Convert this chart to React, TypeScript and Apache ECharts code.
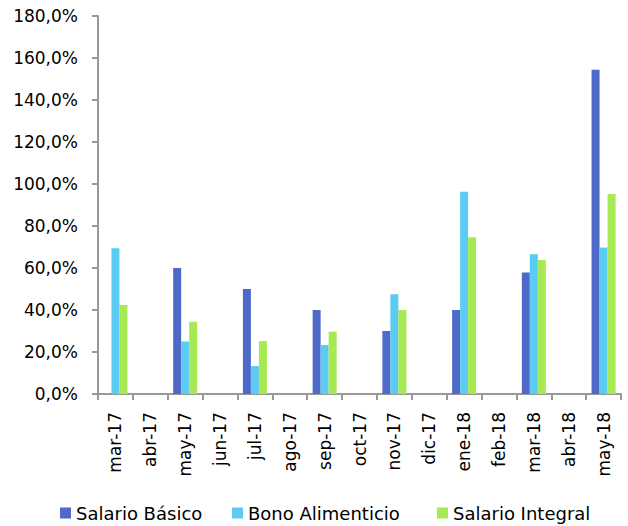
import React, { useEffect, useRef } from "react";
import * as echarts from "echarts";

const categories = ["mar-17","abr-17","may-17","jun-17","jul-17","ago-17","sep-17","oct-17","nov-17","dic-17","ene-18","feb-18","mar-18","abr-18","may-18"];
const seriesNames = ["Salario Básico", "Bono Alimenticio", "Salario Integral"];
const salarioBasico = [0, null, 60, null, 50, null, 40, null, 30, null, 40, null, 57.8, null, 154.4];
const bonoAlimenticio = [69.4, null, 25, null, 13.3, null, 23.3, null, 47.5, null, 96.3, null, 66.5, null, 69.8];
const salarioIntegral = [42.4, null, 34.4, null, 25.2, null, 29.7, null, 40, null, 74.6, null, 63.8, null, 95.2];

const FONT = "DejaVu Sans";
const legendLefts = [60, 232, 437];

export default function App() {
  const ref = useRef<HTMLDivElement>(null);
  useEffect(() => {
    document.body.style.margin = "0";
    const chart = echarts.init(ref.current!, null, { renderer: "svg" });
    const bar = (name: string, data: any[], color: string) => ({
      name,
      type: "bar",
      data,
      barWidth: 8,
      barGap: "0%",
      itemStyle: { color },
    });
    chart.setOption({
      animation: false,
      textStyle: { fontFamily: FONT },
      grid: { left: 98, top: 16, right: 7, bottom: 132 },
      legend: seriesNames.map((n, i) => ({
        left: legendLefts[i],
        top: 504,
        padding: 0,
        icon: "rect",
        itemWidth: 11,
        itemHeight: 11,
        textStyle: { fontFamily: FONT, fontSize: 18, color: "#000" },
        data: [n],
      })),
      xAxis: {
        type: "category",
        data: categories,
        axisLine: { lineStyle: { color: "#999", width: 2 } },
        axisTick: { show: true, length: 6, lineStyle: { color: "#999", width: 2 } },
        axisLabel: { rotate: 90, fontSize: 17, color: "#000", fontFamily: FONT, margin: 18, interval: 0 },
      },
      yAxis: {
        type: "value",
        min: 0,
        max: 180,
        interval: 20,
        splitLine: { show: false },
        axisLine: { show: true, lineStyle: { color: "#999", width: 2 } },
        axisTick: { show: true, length: 6, lineStyle: { color: "#999", width: 2 } },
        axisLabel: {
          fontSize: 17,
          color: "#000",
          fontFamily: FONT,
          margin: 20,
          formatter: (v: number) => v.toFixed(1).replace(".", ",") + "%",
        },
      },
      series: [
        bar(seriesNames[0], salarioBasico, "#4F69C9"),
        bar(seriesNames[1], bonoAlimenticio, "#5CCBF3"),
        bar(seriesNames[2], salarioIntegral, "#A6E952"),
      ],
    });
    return () => chart.dispose();
  }, []);
  return <div ref={ref} style={{ width: 628, height: 526 }} />;
}
